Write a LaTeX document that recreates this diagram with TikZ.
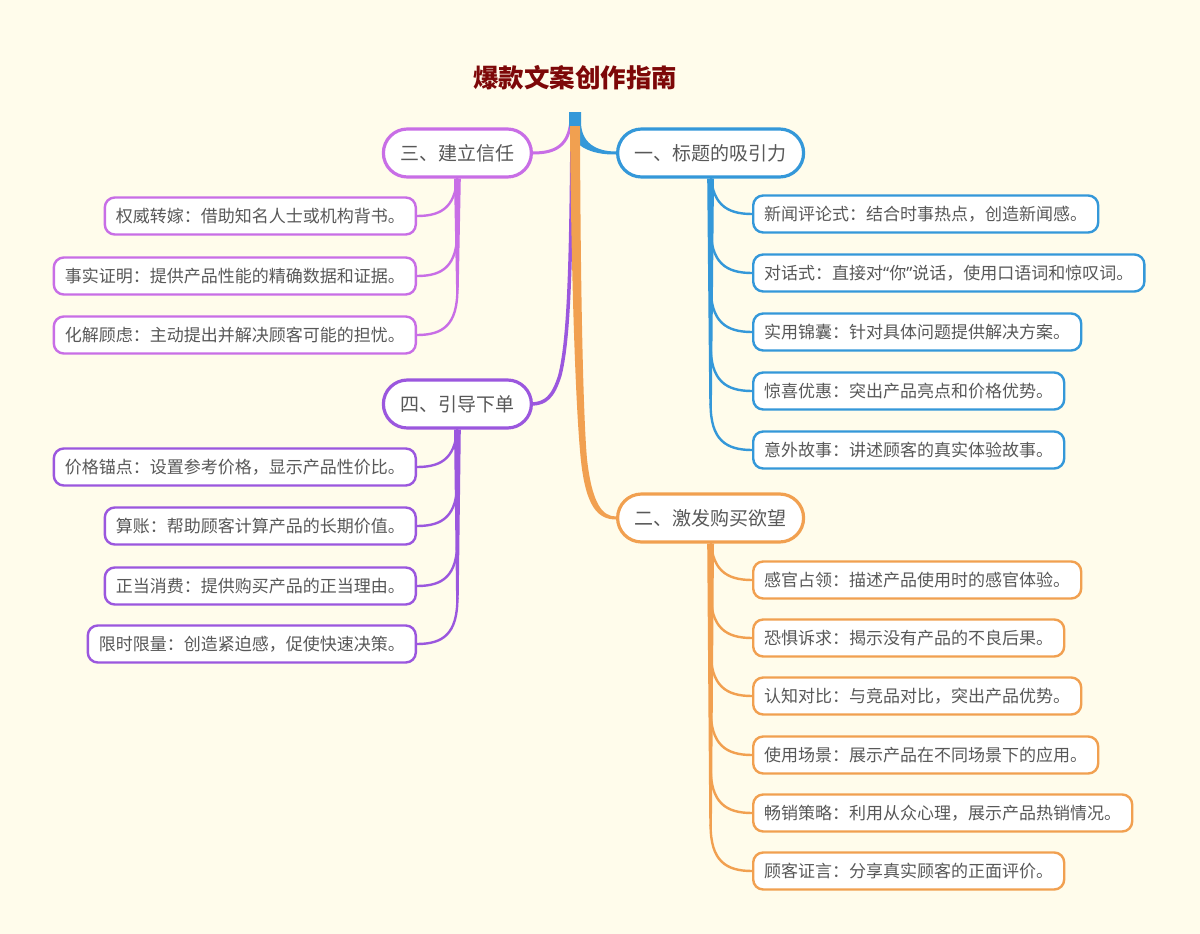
\documentclass[tikz,border=0pt]{standalone}
\usepackage{fontspec}
\setmainfont{Noto Sans CJK SC}
\newfontfamily\quotefont{Noto Sans}
\usetikzlibrary{calc}
\definecolor{bgc}{RGB}{255,252,235}
\definecolor{bluec}{RGB}{52,152,217}
\definecolor{orangec}{RGB}{241,160,80}
\definecolor{lpurple}{RGB}{200,110,230}
\definecolor{dpurple}{RGB}{155,87,222}
\definecolor{txt}{RGB}{88,88,88}
\definecolor{titlec}{RGB}{125,8,8}
\pgfdeclarelayer{bg}
\pgfdeclarelayer{conn}
\pgfsetlayers{bg,conn,main}
\tikzset{
  mainnode/.style={draw, line width=3.2pt, rounded corners=24pt, fill=white, minimum height=48pt, inner xsep=17pt, inner ysep=0pt, font=\fontsize{19}{22}\selectfont, text=txt},
  subnode/.style={draw, line width=2.4pt, rounded corners=10pt, fill=white, minimum height=37pt, inner xsep=11pt, inner ysep=0pt, font=\fontsize{17}{20}\selectfont, text=txt},
  branch/.style={line width=2.4pt, line cap=round},
}
\begin{document}
\begin{tikzpicture}[x=1pt,y=-1pt]
\begin{pgfonlayer}{bg}
\fill[bgc] (0,0) rectangle (1200,934);
\end{pgfonlayer}
\useasboundingbox (0,0) rectangle (1200,934);

\node[font=\fontsize{25.5}{29}\selectfont\bfseries, text=titlec] (title) at (575,78) {爆款文案创作指南};
\coordinate (root) at (575,112);

% main nodes
\node[mainnode, draw=bluec, anchor=west] (n1) at (616,153) {一、标题的吸引力};
\node[mainnode, draw=orangec, anchor=west] (n2) at (616,518) {二、激发购买欲望};
\node[mainnode, draw=lpurple, anchor=east] (n3) at (533,153) {三、建立信任};
\node[mainnode, draw=dpurple, anchor=east] (n4) at (533,404) {四、引导下单};

% blue sub nodes
\node[subnode, draw=bluec, anchor=west] (a1) at (752,214) {新闻评论式：结合时事热点，创造新闻感。};
\node[subnode, draw=bluec, anchor=west] (a2) at (752,273) {对话式：直接对{\quotefont “}你{\quotefont ”}说话，使用口语词和惊叹词。};
\node[subnode, draw=bluec, anchor=west] (a3) at (752,332) {实用锦囊：针对具体问题提供解决方案。};
\node[subnode, draw=bluec, anchor=west] (a4) at (752,391) {惊喜优惠：突出产品亮点和价格优势。};
\node[subnode, draw=bluec, anchor=west] (a5) at (752,450) {意外故事：讲述顾客的真实体验故事。};

% orange sub nodes
\node[subnode, draw=orangec, anchor=west] (b1) at (752,580) {感官占领：描述产品使用时的感官体验。};
\node[subnode, draw=orangec, anchor=west] (b2) at (752,638) {恐惧诉求：揭示没有产品的不良后果。};
\node[subnode, draw=orangec, anchor=west] (b3) at (752,696) {认知对比：与竞品对比，突出产品优势。};
\node[subnode, draw=orangec, anchor=west] (b4) at (752,755) {使用场景：展示产品在不同场景下的应用。};
\node[subnode, draw=orangec, anchor=west] (b5) at (752,813) {畅销策略：利用从众心理，展示产品热销情况。};
\node[subnode, draw=orangec, anchor=west] (b6) at (752,871) {顾客证言：分享真实顾客的正面评价。};

% light purple sub nodes
\node[subnode, draw=lpurple, anchor=east] (c1) at (417,216) {权威转嫁：借助知名人士或机构背书。};
\node[subnode, draw=lpurple, anchor=east] (c2) at (417,276) {事实证明：提供产品性能的精确数据和证据。};
\node[subnode, draw=lpurple, anchor=east] (c3) at (417,335) {化解顾虑：主动提出并解决顾客可能的担忧。};

% purple sub nodes
\node[subnode, draw=dpurple, anchor=east] (d1) at (417,467) {价格锚点：设置参考价格，显示产品性价比。};
\node[subnode, draw=dpurple, anchor=east] (d2) at (417,526) {算账：帮助顾客计算产品的长期价值。};
\node[subnode, draw=dpurple, anchor=east] (d3) at (417,586) {正当消费：提供购买产品的正当理由。};
\node[subnode, draw=dpurple, anchor=east] (d4) at (417,644) {限时限量：创造紧迫感，促使快速决策。};

\begin{pgfonlayer}{conn}
% root to main nodes
\draw[dpurple, line width=3.5pt] ($(root)+(-3,18)$) .. controls ($(root)+(-4,170)$) and ($(root)+(-7,230)$) .. ($(root)+(-15,263)$) .. controls ($(root)+(-22,286)$) and ($(root)+(-30,291)$) .. (n4.east);
\draw[lpurple, line width=3pt] ($(root)+(-4,8)$) .. controls ($(root)+(-6,34)$) and ($(root)+(-20,41)$) .. (n3.east);
\fill[bluec] ($(root)+(-6,0)$) -- ($(root)+(6,0)$) -- ($(root)+(6,10)$) .. controls ($(root)+(6,30)$) and ($(root)+(20,39.5)$) .. ($(n1.west)+(0,-1.5)$) -- ($(n1.west)+(0,1.5)$) .. controls ($(root)+(16,43)$) and ($(root)+(-6,34)$) .. ($(root)+(-6,10)$) -- cycle;
\fill[orangec] ($(root)+(-5,14)$) .. controls ($(root)+(-3.5,190)$) and ($(root)+(1.5,308)$) .. ($(root)+(6,349)$) .. controls ($(root)+(11,395)$) and ($(root)+(23,407.5)$) .. ($(n2.west)+(0,1.5)$) -- ($(n2.west)+(0,-1.5)$) .. controls ($(root)+(27,404.5)$) and ($(root)+(17,391)$) .. ($(root)+(12,347)$) .. controls ($(root)+(8.5,308)$) and ($(root)+(5.5,190)$) .. ($(root)+(5,14)$) -- cycle;

% blue branches
\fill[bluec] ($(n1.south)+(-3.4,0)$) -- ($(n1.south)+(3.4,0)$) -- ($(n1.south |- a5.west)+(1.3,-45)$) -- ($(n1.south |- a5.west)+(-1.3,-45)$) -- cycle;
\foreach \k in {a1,a2,a3,a4,a5}{
  \draw[branch, bluec] ($(n1.south |- \k.west)+(0,-46)$) .. controls ($(n1.south |- \k.west)+(0,-10)$) and ($(\k.west)+(-26,0)$) .. (\k.west);
}
% orange branches
\fill[orangec] ($(n2.south)+(-3.4,0)$) -- ($(n2.south)+(3.4,0)$) -- ($(n2.south |- b6.west)+(1.3,-45)$) -- ($(n2.south |- b6.west)+(-1.3,-45)$) -- cycle;
\foreach \k in {b1,b2,b3,b4,b5,b6}{
  \draw[branch, orangec] ($(n2.south |- \k.west)+(0,-46)$) .. controls ($(n2.south |- \k.west)+(0,-10)$) and ($(\k.west)+(-26,0)$) .. (\k.west);
}
% light purple branches
\fill[lpurple] ($(n3.south)+(-3.4,0)$) -- ($(n3.south)+(3.4,0)$) -- ($(n3.south |- c3.east)+(1.3,-45)$) -- ($(n3.south |- c3.east)+(-1.3,-45)$) -- cycle;
\foreach \k in {c1,c2,c3}{
  \draw[branch, lpurple] ($(n3.south |- \k.east)+(0,-46)$) .. controls ($(n3.south |- \k.east)+(0,-10)$) and ($(\k.east)+(26,0)$) .. (\k.east);
}
% purple branches
\fill[dpurple] ($(n4.south)+(-3.4,0)$) -- ($(n4.south)+(3.4,0)$) -- ($(n4.south |- d4.east)+(1.3,-45)$) -- ($(n4.south |- d4.east)+(-1.3,-45)$) -- cycle;
\foreach \k in {d1,d2,d3,d4}{
  \draw[branch, dpurple] ($(n4.south |- \k.east)+(0,-46)$) .. controls ($(n4.south |- \k.east)+(0,-10)$) and ($(\k.east)+(26,0)$) .. (\k.east);
}
\end{pgfonlayer}
\end{tikzpicture}
\end{document}
